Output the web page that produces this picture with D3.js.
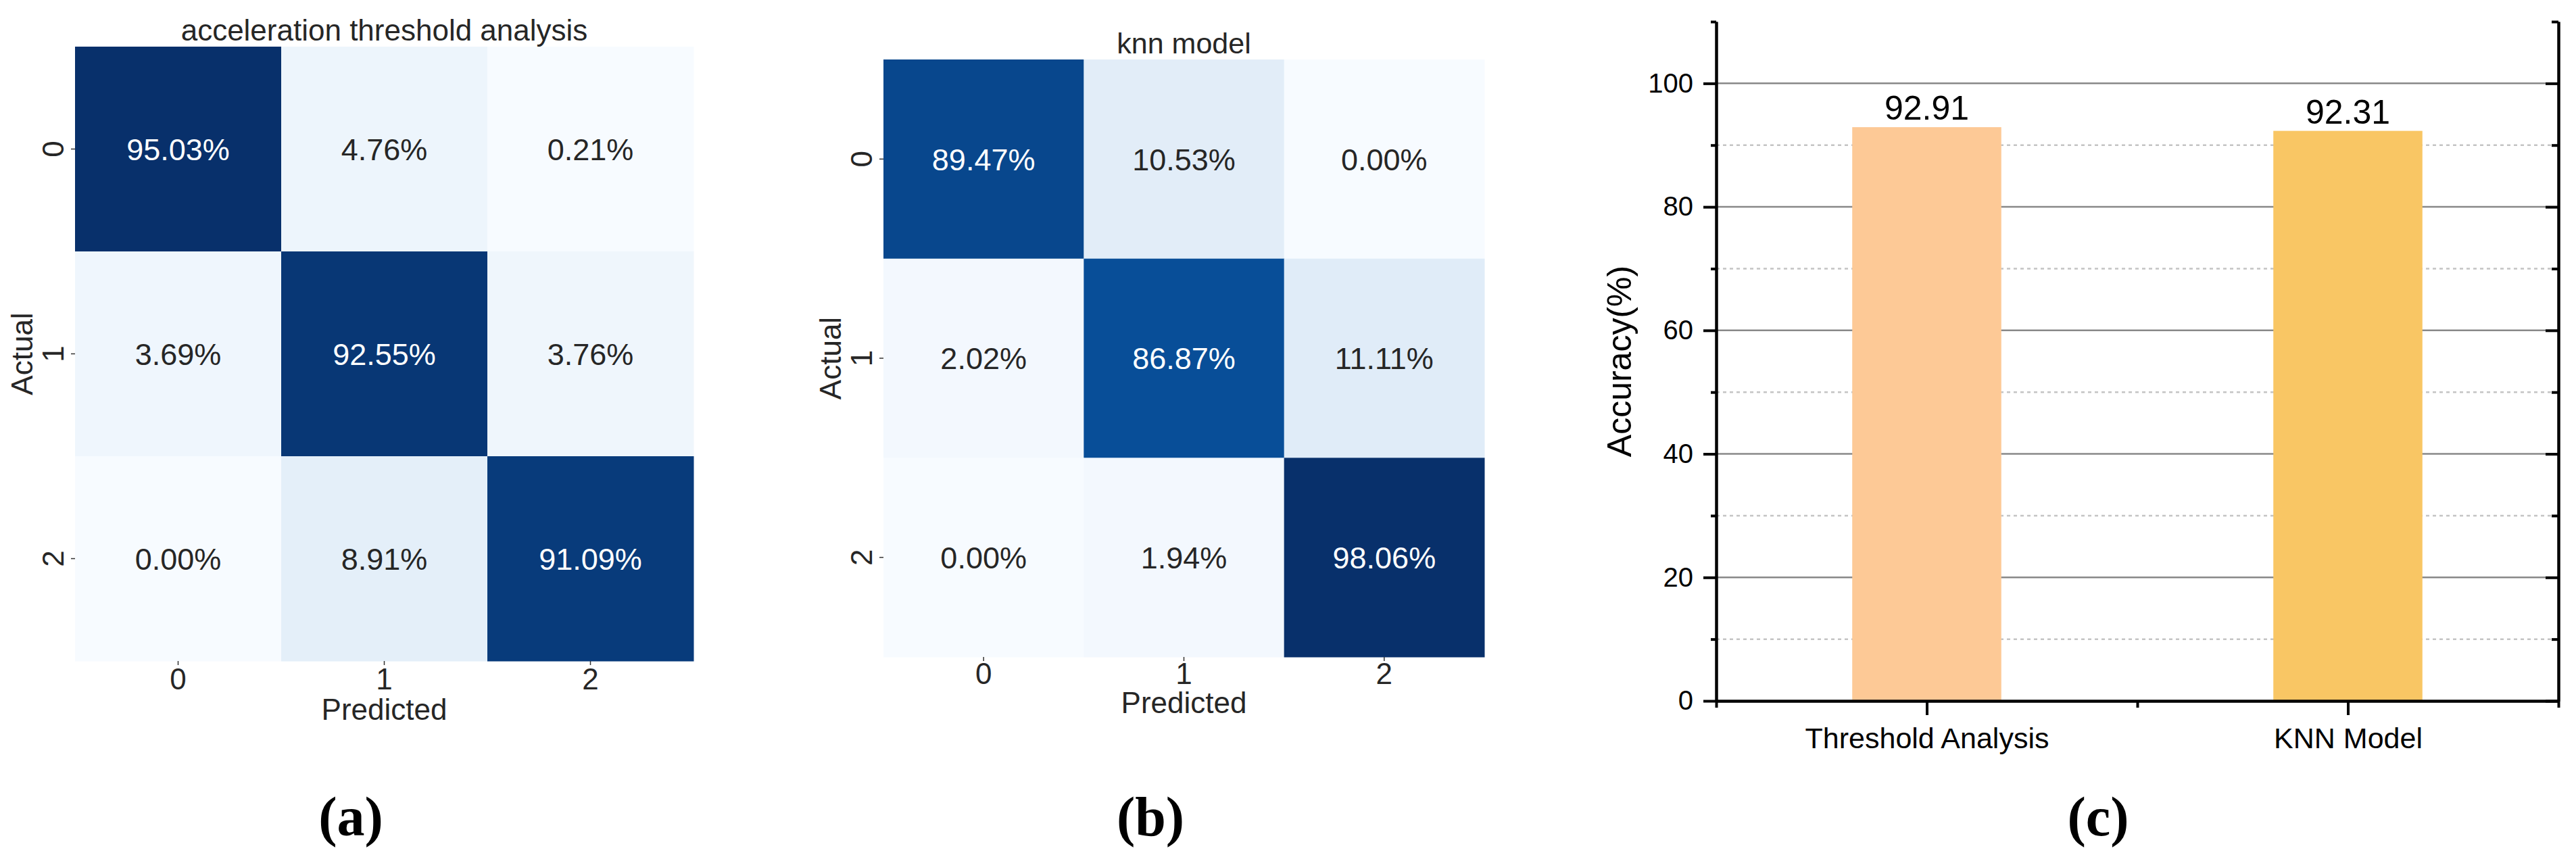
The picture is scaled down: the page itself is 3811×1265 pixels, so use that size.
<!DOCTYPE html>
<html>
<head>
<meta charset="utf-8">
<script src="https://d3js.org/d3.v7.min.js"></script>
<style>
  body { margin: 0; background: #fff; }
  svg { display: block; }
</style>
</head>
<body>
<script>
'use strict';

// Data
const classes = ['0', '1', '2'];
const thresholdMatrix = [
  [95.03, 4.76, 0.21],
  [3.69, 92.55, 3.76],
  [0.00, 8.91, 91.09]
];
const knnMatrix = [
  [89.47, 10.53, 0.00],
  [2.02, 86.87, 11.11],
  [0.00, 1.94, 98.06]
];
const models = ['Threshold Analysis', 'KNN Model'];
const accuracy = [92.91, 92.31];
const majorTicks = [0, 20, 40, 60, 80, 100];
const minorTicks = [10, 30, 50, 70, 90, 110];

// matplotlib "Blues"
const blues = ['#f7fbff', '#deebf7', '#c6dbef', '#9ecae1', '#6baed6',
  '#4292c6', '#2171b5', '#08519c', '#08306b'];

const SANS = '"Liberation Sans", Arial, sans-serif';
const SERIF = '"Liberation Serif", "Times New Roman", serif';

const W = 3811, H = 1265;
const svg = d3.select('body').append('svg')
  .attr('width', W).attr('height', H)
  .attr('viewBox', `0 0 ${W} ${H}`)
  .attr('font-family', SANS);

svg.append('rect').attr('width', W).attr('height', H).attr('fill', '#fff');

const luminance = (c) => {
  const { r, g, b } = d3.rgb(c);
  const f = (v) => { v /= 255; return v <= 0.03928 ? v / 12.92 : Math.pow((v + 0.055) / 1.055, 2.4); };
  return 0.2126 * f(r) + 0.7152 * f(g) + 0.0722 * f(b);
};

const panelTag = (label, x) => svg.append('text')
  .attr('x', x).attr('y', 1236)
  .attr('text-anchor', 'middle')
  .attr('font-family', SERIF)
  .attr('font-weight', 'bold')
  .attr('font-size', 82)
  .text(label);

// Confusion matrix panel
const heatmap = (matrix, title, box) => {
  const g = svg.append('g');
  const flat = matrix.flat();
  const lo = d3.min(flat), hi = d3.max(flat);
  const color = d3.scaleLinear()
    .domain(blues.map((_c, i) => lo + (hi - lo) * i / (blues.length - 1)))
    .range(blues);

  const x = d3.scaleBand().domain(classes).range([box.x0, box.x1]);
  const y = d3.scaleBand().domain(classes).range([box.y0, box.y1]);

  const cells = flat.map((v, i) => ({ v, r: classes[Math.floor(i / 3)], c: classes[i % 3] }));

  g.selectAll('rect.cell')
    .data(cells)
    .enter().append('rect')
    .attr('class', 'cell')
    .attr('x', d => x(d.c))
    .attr('y', d => y(d.r))
    .attr('width', x.bandwidth() + 0.5)
    .attr('height', y.bandwidth() + 0.5)
    .attr('fill', d => color(d.v));

  g.selectAll('text.val')
    .data(cells)
    .enter().append('text')
    .attr('class', 'val')
    .attr('x', d => x(d.c) + x.bandwidth() / 2)
    .attr('y', d => y(d.r) + y.bandwidth() / 2)
    .attr('dy', '0.36em')
    .attr('text-anchor', 'middle')
    .attr('font-size', 45)
    .attr('fill', d => luminance(color(d.v)) < 0.408 ? '#ffffff' : '#262626')
    .text(d => d.v.toFixed(2) + '%');

  // Axes
  const xAxis = g.append('g')
    .attr('transform', `translate(0,${box.y1})`)
    .call(d3.axisBottom(x).tickSize(6).tickSizeOuter(0));
  const yAxis = g.append('g')
    .attr('transform', `translate(${box.x0},0)`)
    .call(d3.axisLeft(y).tickSize(6).tickSizeOuter(0));

  [xAxis, yAxis].forEach(a => {
    a.attr('font-family', SANS);
    a.select('.domain').remove();
    a.selectAll('line').attr('stroke', '#333').attr('stroke-width', 1.5);
  });

  xAxis.selectAll('text')
    .attr('y', box.tickGap).attr('dy', null)
    .attr('font-size', 44).attr('fill', '#262626');

  yAxis.selectAll('text')
    .attr('x', null).attr('dy', null)
    .attr('text-anchor', 'middle')
    .attr('transform', 'translate(-17,0) rotate(-90)')
    .attr('font-size', 44).attr('fill', '#262626');

  const cx = (box.x0 + box.x1) / 2;
  const cy = (box.y0 + box.y1) / 2;

  g.append('text')
    .attr('x', cx).attr('y', box.y0 - 9)
    .attr('text-anchor', 'middle')
    .attr('font-size', box.titleSize).attr('fill', '#262626')
    .text(title);

  g.append('text')
    .attr('x', cx).attr('y', box.y1 + box.labelGap)
    .attr('text-anchor', 'middle')
    .attr('font-size', 44).attr('fill', '#262626')
    .text('Predicted');

  g.append('text')
    .attr('transform', `translate(${box.x0 - 63},${cy}) rotate(-90)`)
    .attr('text-anchor', 'middle')
    .attr('font-size', 44).attr('fill', '#262626')
    .text('Actual');

  panelTag(box.tag, box.tagX);
};

heatmap(thresholdMatrix, 'acceleration threshold analysis',
  { x0: 111, x1: 1026, y0: 69, y1: 978, tickGap: 42, labelGap: 87, titleSize: 44, tag: '(a)', tagX: 519 });
heatmap(knnMatrix, 'knn model',
  { x0: 1307, x1: 2196, y0: 88, y1: 972, tickGap: 40, labelGap: 83, titleSize: 43, tag: '(b)', tagX: 1702 });

// Accuracy bar chart
const bar = { x0: 2539, x1: 3785, y0: 32, y1: 1037 };
const gc = svg.append('g');
const x = d3.scaleLinear().domain([0.5, models.length + 0.5]).range([bar.x0, bar.x1]);
const y = d3.scaleLinear().domain([0, 110]).range([bar.y1, bar.y0]);
const barColors = ['#fdc996', '#f9c664'];
const barWidth = 0.354;

// Grid
gc.selectAll('line.major')
  .data(majorTicks.filter(d => d > 0))
  .enter().append('line')
  .attr('x1', bar.x0).attr('x2', bar.x1)
  .attr('y1', d => y(d)).attr('y2', d => y(d))
  .attr('stroke', '#888').attr('stroke-width', 2.5);

gc.selectAll('line.minor')
  .data(minorTicks.filter(d => d < 100))
  .enter().append('line')
  .attr('x1', bar.x0).attr('x2', bar.x1)
  .attr('y1', d => y(d)).attr('y2', d => y(d))
  .attr('stroke', '#c4c4c4').attr('stroke-width', 2.5)
  .attr('stroke-dasharray', '5,5');

// Bars
gc.selectAll('rect.bar')
  .data(accuracy)
  .enter().append('rect')
  .attr('x', (_d, i) => x(i + 1 - barWidth / 2))
  .attr('width', x(1 + barWidth) - x(1))
  .attr('y', d => y(d))
  .attr('height', d => y(0) - y(d))
  .attr('fill', (_d, i) => barColors[i]);

gc.selectAll('text.barval')
  .data(accuracy)
  .enter().append('text')
  .attr('x', (_d, i) => x(i + 1))
  .attr('y', d => y(d) - 11)
  .attr('text-anchor', 'middle')
  .attr('font-size', 50)
  .text(d => d.toFixed(2));

const styleAxis = (a) => {
  a.attr('font-family', SANS);
  a.select('.domain').attr('stroke', '#000').attr('stroke-width', 4);
  a.selectAll('line').attr('stroke', '#000').attr('stroke-width', 4);
  a.selectAll('text').attr('fill', '#000');
};

// Left axis
gc.append('g').attr('transform', `translate(${bar.x0},0)`)
  .call(d3.axisLeft(y).tickValues(minorTicks).tickSize(8).tickSizeOuter(0).tickFormat(''))
  .call(styleAxis);
gc.append('g').attr('transform', `translate(${bar.x0},0)`)
  .call(d3.axisLeft(y).tickValues(majorTicks).tickSize(19).tickSizeOuter(0).tickPadding(15))
  .call(styleAxis)
  .call(a => a.selectAll('text').attr('font-size', 40));

// Right axis, ticks inward
gc.append('g').attr('transform', `translate(${bar.x1},0)`)
  .call(d3.axisRight(y).tickValues(minorTicks).tickSize(-10).tickSizeOuter(0).tickFormat(''))
  .call(styleAxis);
gc.append('g').attr('transform', `translate(${bar.x1},0)`)
  .call(d3.axisRight(y).tickValues(majorTicks).tickSize(-19).tickSizeOuter(0).tickFormat(''))
  .call(styleAxis);

// Bottom axis
gc.append('g').attr('transform', `translate(0,${bar.y1})`)
  .call(d3.axisBottom(x).tickValues([0.5, 1.5, 2.5]).tickSize(10).tickSizeOuter(0).tickFormat(''))
  .call(styleAxis);
gc.append('g').attr('transform', `translate(0,${bar.y1})`)
  .call(d3.axisBottom(x).tickValues([1, 2]).tickSize(21).tickSizeOuter(0).tickFormat((_d, i) => models[i]))
  .call(styleAxis)
  .call(a => a.selectAll('text').attr('font-size', 43).attr('y', 70).attr('dy', null));

gc.append('text')
  .attr('transform', `translate(2413,${(bar.y0 + bar.y1) / 2}) rotate(-90)`)
  .attr('text-anchor', 'middle')
  .attr('font-size', 50)
  .text('Accuracy(%)');

panelTag('(c)', 3104);
</script>
</body>
</html>
